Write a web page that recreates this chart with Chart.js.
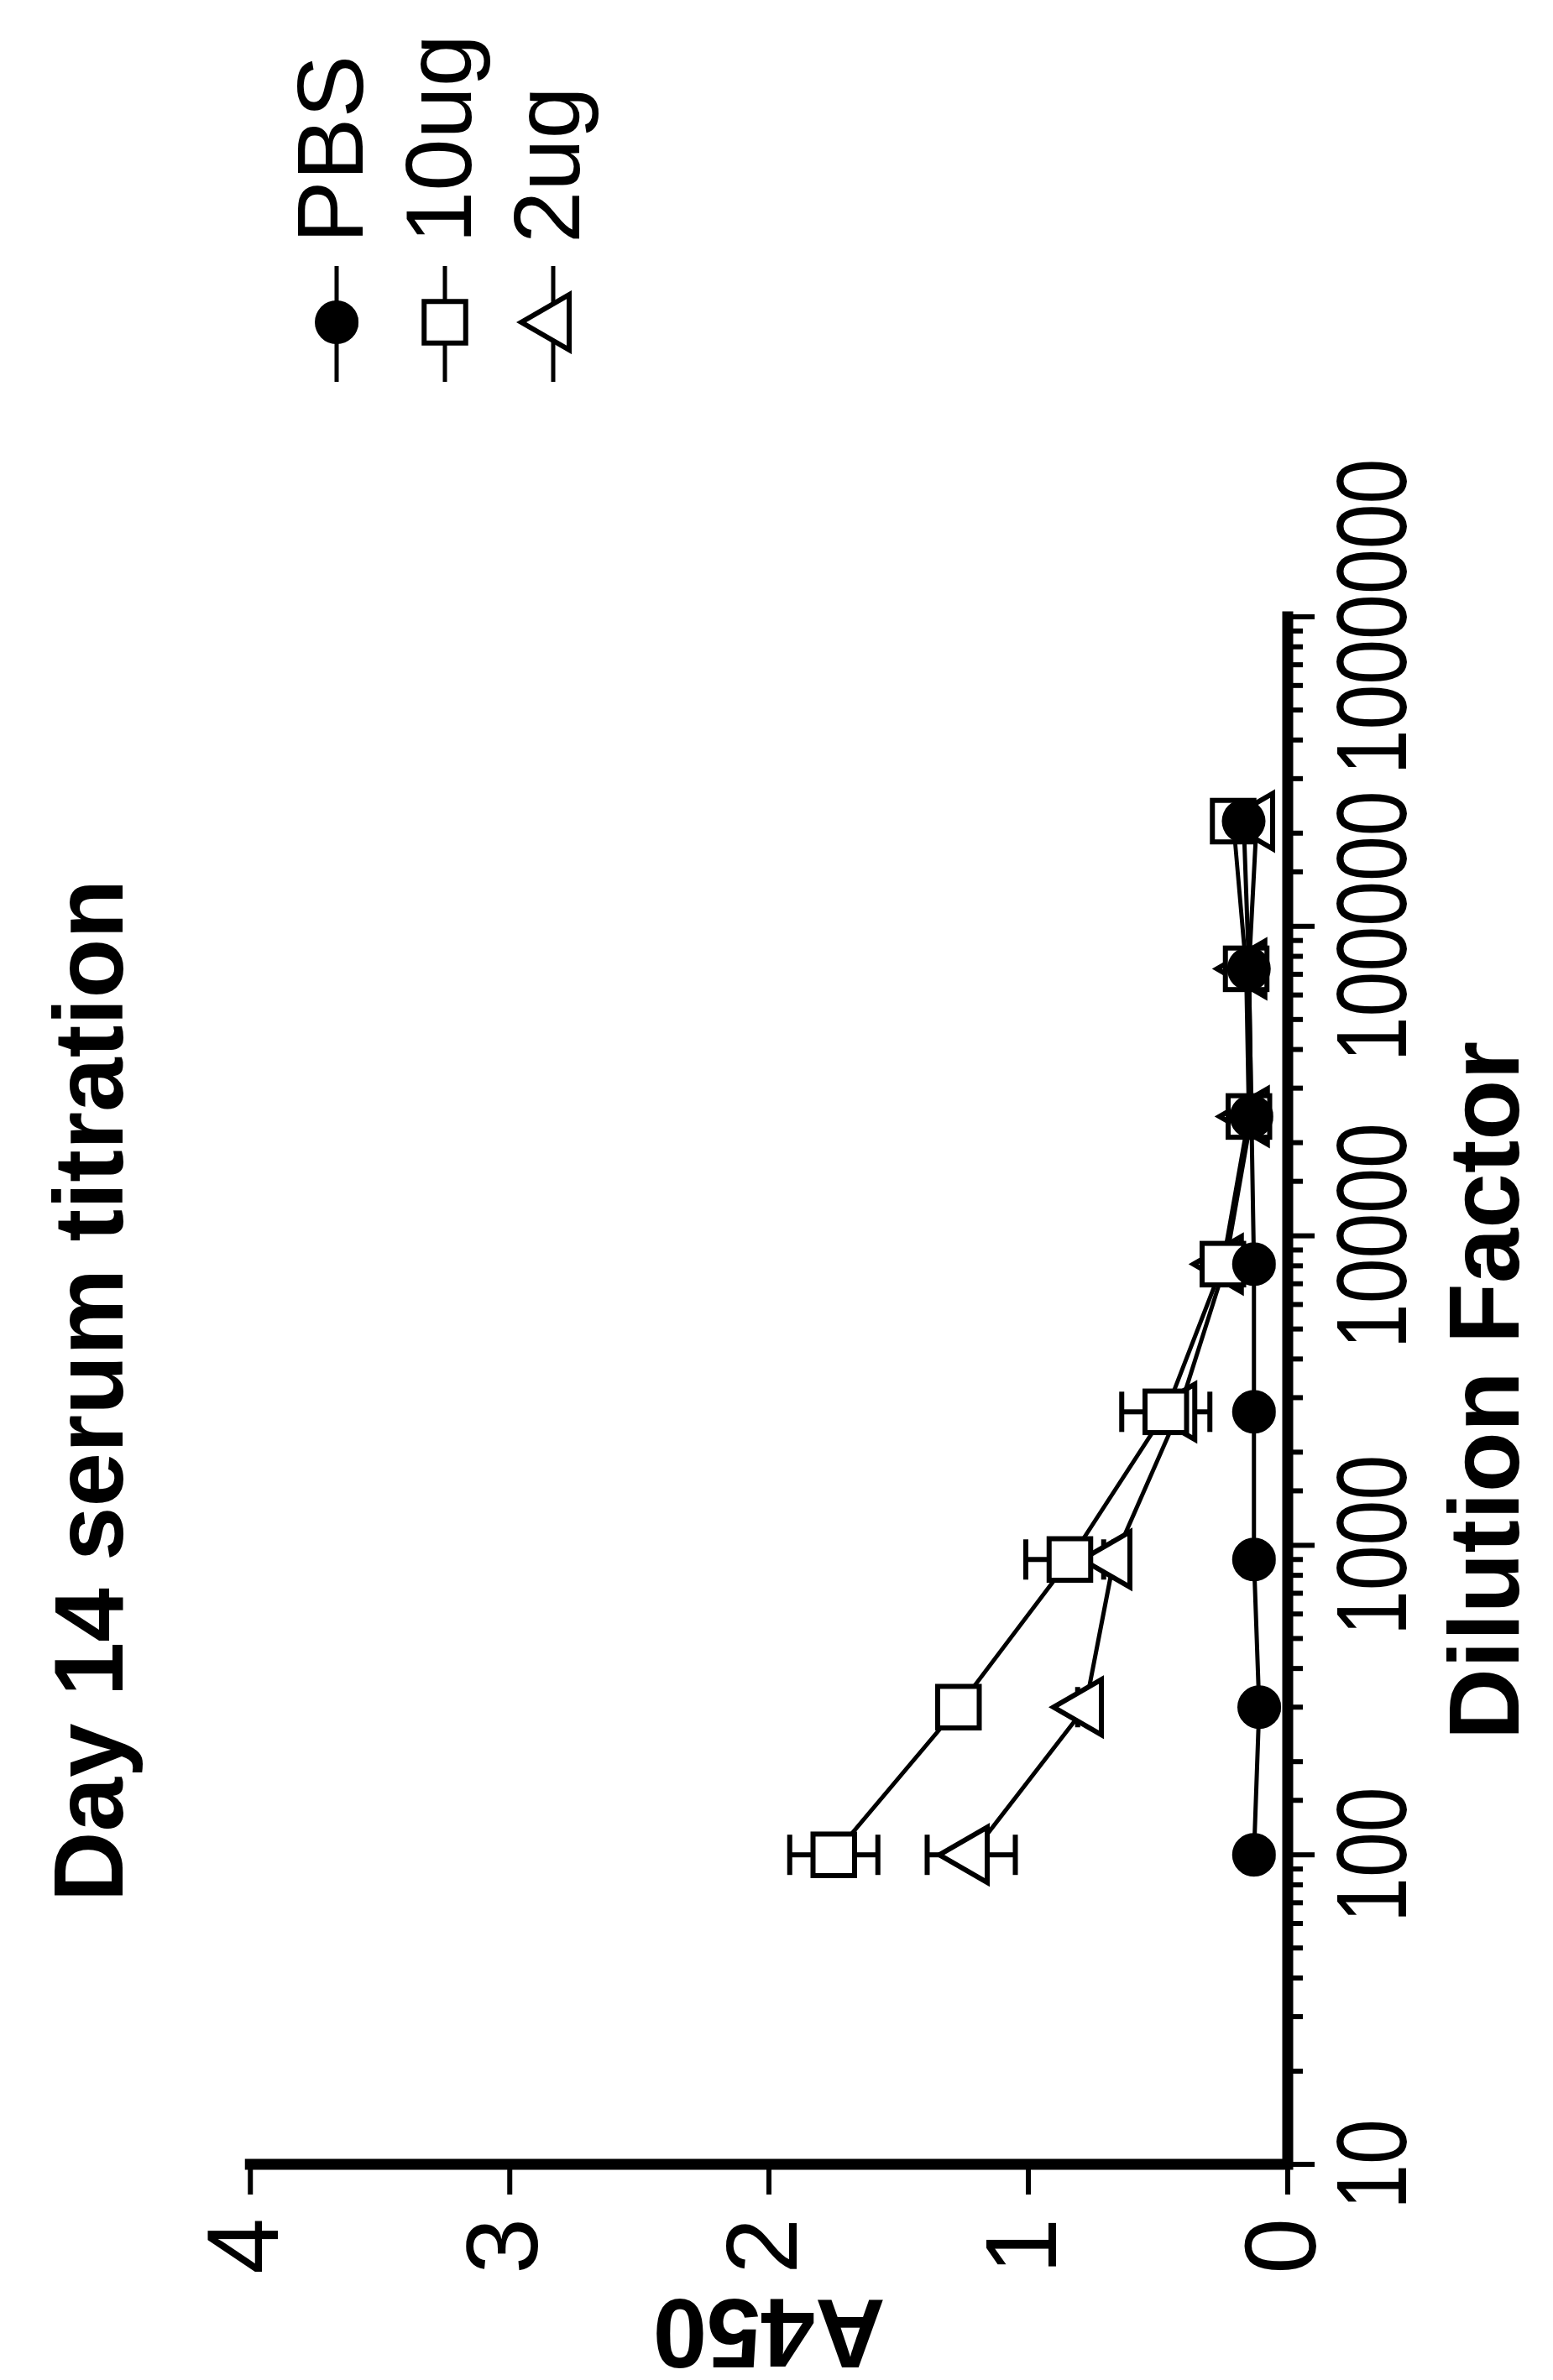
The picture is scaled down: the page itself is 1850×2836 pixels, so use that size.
<!DOCTYPE html>
<html lang="en">
<head>
<meta charset="utf-8">
<title>Day 14 serum titration</title>
<script src="https://cdn.jsdelivr.net/npm/chart.js@4.4.1/dist/chart.umd.min.js"></script>
<style>
    html, body { margin: 0; padding: 0; background: #fff; overflow: hidden; }
    /* El gráfico se dibuja apaisado y luego se gira 90° a la izquierda, como en la figura */
    #wrap {
        position: absolute; left: 0; top: 0;
        width: 2836px; height: 1850px;
        transform-origin: 0 0;
        transform: translateY(2836px) rotate(-90deg);
    }
    #titrationChart { display: block; }
</style>
</head>
<body>
<div id="wrap"><canvas id="titrationChart" width="2836" height="1850"></canvas></div>
<script>
// ==========================================
// DATOS
// ==========================================
const dilutions = [100, 300, 900, 2700, 8100, 24300, 72900, 218700];
const seriesNames = ['PBS', '10ug', '2ug'];
const pbs = [0.13, 0.11, 0.13, 0.13, 0.13, 0.14, 0.15, 0.17];
const pbsErr = [0.02, 0.01, 0.01, 0.01, 0.01, 0.01, 0.01, 0.01];
const ug10 = [1.75, 1.27, 0.84, 0.47, 0.25, 0.15, 0.16, 0.21];
const ug10Err = [0.17, 0.03, 0.17, 0.17, 0.03, 0.02, 0.02, 0.03];
const ug2 = [1.22, 0.78, 0.67, 0.42, 0.24, 0.14, 0.15, 0.12];
const ug2Err = [0.17, 0.03, 0.04, 0.04, 0.02, 0.02, 0.02, 0.02];
const yTicks = [0, 1, 2, 3, 4];
const xTickLabels = [10, 100, 1000, 10000, 100000, 1000000];

const FONT = '"Liberation Sans", Arial, sans-serif';

// Une las diluciones con cada serie como puntos {x, y}
const toPoints = (values) => dilutions.map((d, i) => ({ x: d, y: values[i] }));

// Dibuja un marcador con la misma geometría que usa Chart.js
function drawMarker(ctx, style, r, x, y) {
    ctx.beginPath();
    if (style === 'circle') {
        ctx.arc(x, y, r, 0, Math.PI * 2);
    } else if (style === 'rect') {
        const s = r * Math.SQRT1_2;
        ctx.rect(x - s, y - s, 2 * s, 2 * s);
    } else if (style === 'triangle') {
        ctx.moveTo(x, y - r);
        ctx.lineTo(x + Math.sin(2 * Math.PI / 3) * r, y + 0.5 * r);
        ctx.lineTo(x - Math.sin(2 * Math.PI / 3) * r, y + 0.5 * r);
    }
    ctx.closePath();
    ctx.fill();
    ctx.stroke();
}

document.addEventListener('DOMContentLoaded', () => {

    // ==========================================
    // PLUGIN: BARRAS DE ERROR (debajo de los puntos)
    // ==========================================
    const errorBars = {
        id: 'errorBars',
        beforeDatasetsDraw(chart) {
            const { ctx, scales: { x, y } } = chart;
            ctx.save();
            ctx.strokeStyle = '#000';
            ctx.lineWidth = 6;
            chart.data.datasets.forEach((ds) => {
                if (!ds.errors) return;
                ds.data.forEach((p, i) => {
                    const e = ds.errors[i];
                    const px = x.getPixelForValue(p.x);
                    const top = y.getPixelForValue(p.y + e);
                    const bot = y.getPixelForValue(p.y - e);
                    ctx.beginPath();
                    ctx.moveTo(px, top); ctx.lineTo(px, bot);
                    ctx.moveTo(px - 24, top); ctx.lineTo(px + 24, top);
                    ctx.moveTo(px - 24, bot); ctx.lineTo(px + 24, bot);
                    ctx.stroke();
                });
            });
            ctx.restore();
        }
    };

    // ==========================================
    // PLUGIN: EJES GRUESOS, MARCAS HACIA FUERA Y ROTULOS ESTRECHOS
    // ==========================================
    const axisTicks = {
        id: 'axisTicks',
        afterDatasetsDraw(chart) {
            const { ctx, chartArea: a, scales: { x, y } } = chart;
            ctx.save();
            ctx.strokeStyle = '#000';
            ctx.lineCap = 'square';
            ctx.lineWidth = 13;
            ctx.beginPath();
            ctx.moveTo(a.left, a.top);
            ctx.lineTo(a.left, a.bottom);
            ctx.lineTo(a.right, a.bottom);
            ctx.stroke();

            ctx.lineCap = 'butt';
            ctx.lineWidth = 6;
            ctx.beginPath();
            // Eje logarítmico: marcas largas en potencias de 10, cortas en 2..9
            x.ticks.forEach((t) => {
                const l = Math.log10(t.value);
                const major = Math.abs(l - Math.round(l)) < 1e-9;
                const px = x.getPixelForValue(t.value);
                ctx.moveTo(px, a.bottom);
                ctx.lineTo(px, a.bottom + (major ? 32 : 18));
            });
            yTicks.forEach((v) => {
                const py = y.getPixelForValue(v);
                ctx.moveTo(a.left, py);
                ctx.lineTo(a.left - 36, py);
            });
            ctx.stroke();

            // Rótulos del eje de dilución: letra estrecha (no hay Arial Narrow instalada)
            ctx.fillStyle = '#000';
            ctx.font = '118px ' + FONT;
            ctx.textAlign = 'center';
            ctx.textBaseline = 'alphabetic';
            xTickLabels.forEach((v) => {
                ctx.save();
                ctx.translate(x.getPixelForValue(v), a.bottom + 141);
                ctx.scale(0.82, 1);
                ctx.fillText(String(v), 0, 0);
                ctx.restore();
            });
            ctx.restore();
        }
    };

    // ==========================================
    // PLUGIN: LEYENDA CON LÍNEA Y MARCADOR
    // ==========================================
    const sideLegend = {
        id: 'sideLegend',
        afterDraw(chart) {
            const { ctx } = chart;
            ctx.save();
            ctx.font = '112px ' + FONT;
            ctx.textBaseline = 'middle';
            ctx.textAlign = 'left';
            chart.data.datasets.forEach((ds, i) => {
                const row = 401 + i * 129;
                ctx.strokeStyle = '#000';
                ctx.lineWidth = ds.borderWidth;
                ctx.beginPath();
                ctx.moveTo(2381, row);
                ctx.lineTo(2519, row);
                ctx.stroke();
                ctx.fillStyle = ds.pointBackgroundColor;
                ctx.lineWidth = ds.pointBorderWidth;
                drawMarker(ctx, ds.pointStyle, ds.pointRadius, 2452, row);
                ctx.fillStyle = '#000';
                ctx.fillText(ds.label, 2546, row);
            });
            ctx.restore();
        }
    };

    // ==========================================
    // GRÁFICO: TITULACIÓN DEL SUERO DÍA 14
    // ==========================================
    const ctxChart = document.getElementById('titrationChart');

    new Chart(ctxChart, {
        type: 'line',
        data: {
            datasets: [
                {
                    label: seriesNames[0],
                    data: toPoints(pbs),
                    errors: pbsErr,
                    borderColor: '#000',
                    borderWidth: 5,
                    pointStyle: 'circle',
                    pointRadius: 25,
                    pointHoverRadius: 25,
                    pointBackgroundColor: '#000',
                    pointBorderColor: '#000',
                    pointBorderWidth: 2
                },
                {
                    label: seriesNames[1],
                    data: toPoints(ug10),
                    errors: ug10Err,
                    borderColor: '#000',
                    borderWidth: 5,
                    pointStyle: 'rect',
                    pointRadius: 35,
                    pointHoverRadius: 35,
                    pointBackgroundColor: '#fff',
                    pointBorderColor: '#000',
                    pointBorderWidth: 6
                },
                {
                    label: seriesNames[2],
                    data: toPoints(ug2),
                    errors: ug2Err,
                    borderColor: '#000',
                    borderWidth: 5,
                    pointStyle: 'triangle',
                    pointRadius: 38,
                    pointHoverRadius: 38,
                    pointBackgroundColor: '#fff',
                    pointBorderColor: '#000',
                    pointBorderWidth: 6
                }
            ]
        },
        options: {
            responsive: false,
            animation: false,
            events: [],
            layout: { padding: { left: 0, right: 735, top: 0, bottom: 0 } },
            plugins: {
                legend: { display: false },
                tooltip: { enabled: false },
                title: {
                    display: true,
                    text: 'Day 14 serum titration',
                    color: '#000',
                    fullSize: false,
                    font: { family: FONT, size: 116, weight: 'bold', lineHeight: 1.2 },
                    padding: { top: 44, bottom: 115 }
                }
            },
            scales: {
                x: {
                    type: 'logarithmic',
                    position: 'bottom',
                    min: 10,
                    max: 1000000,
                    grid: { display: false, drawTicks: false },
                    border: { display: false },
                    ticks: { display: false, autoSkip: false, maxRotation: 0 },
                    title: {
                        display: true,
                        text: 'Dilution Factor',
                        color: '#000',
                        font: { family: FONT, size: 118, weight: 'bold', lineHeight: 1 },
                        padding: { top: 0, bottom: 15 }
                    },
                    afterFit: (scale) => { scale.height = 316; }
                },
                y: {
                    type: 'linear',
                    position: 'left',
                    min: 0,
                    max: 4,
                    grid: { display: false, drawTicks: false },
                    border: { display: false },
                    ticks: {
                        stepSize: 1,
                        padding: 64,
                        color: '#000',
                        font: { family: FONT, size: 120 }
                    },
                    title: {
                        display: true,
                        text: 'A450',
                        color: '#000',
                        font: { family: FONT, size: 116, weight: 'bold', lineHeight: 1 },
                        padding: { top: 6, bottom: 0 }
                    },
                    afterFit: (scale) => { scale.width = 257; }
                }
            }
        },
        plugins: [errorBars, axisTicks, sideLegend]
    });
});
</script>
</body>
</html>
